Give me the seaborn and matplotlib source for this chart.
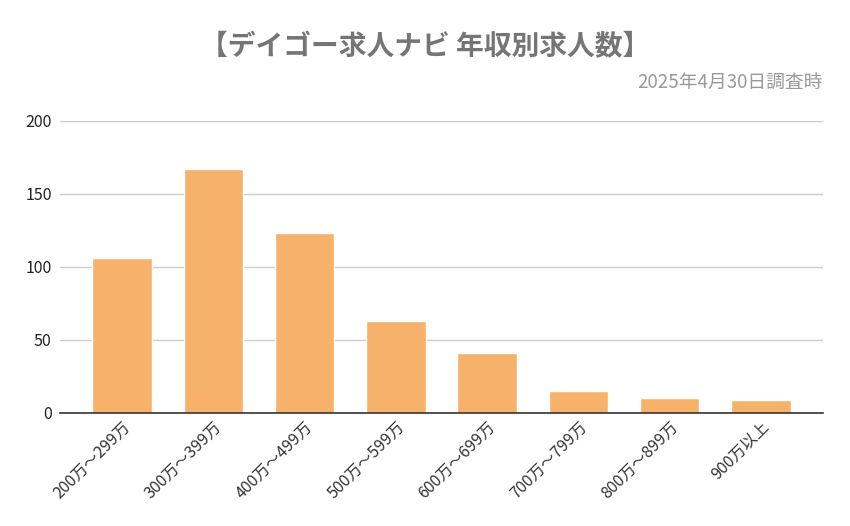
import matplotlib
matplotlib.use("Agg")
import matplotlib.pyplot as plt
import seaborn as sns
import pandas as pd

categories = ["200万～299万", "300万～399万", "400万～499万", "500万～599万",
              "600万～699万", "700万～799万", "800万～899万", "900万以上"]
counts = [106, 167, 123, 63, 41, 15, 10, 9]
yticks = [0, 50, 100, 150, 200]

sns.set_theme(style="white")
plt.rcParams['font.family'] = ['Noto Sans CJK JP', 'DejaVu Sans']

df = pd.DataFrame({"range": categories, "count": counts})

fig = plt.figure(figsize=(8.5, 5.26), dpi=100)
ax = fig.add_axes([0.0706, 0.2154, 0.8976, 0.5551])

sns.barplot(data=df, x="range", y="count", color="#F6B26B", saturation=1,
            width=0.65, ax=ax, zorder=3)

ax.set_ylim(0, 200)
ax.set_xlim(-0.68, 7.68)
ax.set_yticks(yticks)
ax.set_yticklabels([str(v) for v in yticks], fontsize=11.5, color="#222222")
ax.yaxis.grid(True, color="#CCCCCC", linewidth=1, zorder=0)
ax.set_axisbelow(True)
for s in ["top", "right", "left"]:
    ax.spines[s].set_visible(False)
ax.spines["bottom"].set_color("#333333")
ax.spines["bottom"].set_linewidth(1.2)
ax.spines["bottom"].set_zorder(4)
ax.tick_params(axis="y", length=0, pad=6)
ax.tick_params(axis="x", length=0, pad=4)
ax.set_xticks(range(len(categories)))
ax.set_xticklabels(categories, rotation=45, ha="right", rotation_mode="anchor",
                   fontsize=11.5, color="#333333")
ax.set_xlabel("")
ax.set_ylabel("")

fig.text(0.5, 0.911, "【デイゴー求人ナビ 年収別求人数】", ha="center", va="center",
         fontsize=20, fontweight="bold", color="#757575")
fig.text(0.968, 0.844, "2025年4月30日調査時", ha="right", va="center",
         fontsize=13.5, color="#999999")

fig.savefig("out.png", dpi=100)
